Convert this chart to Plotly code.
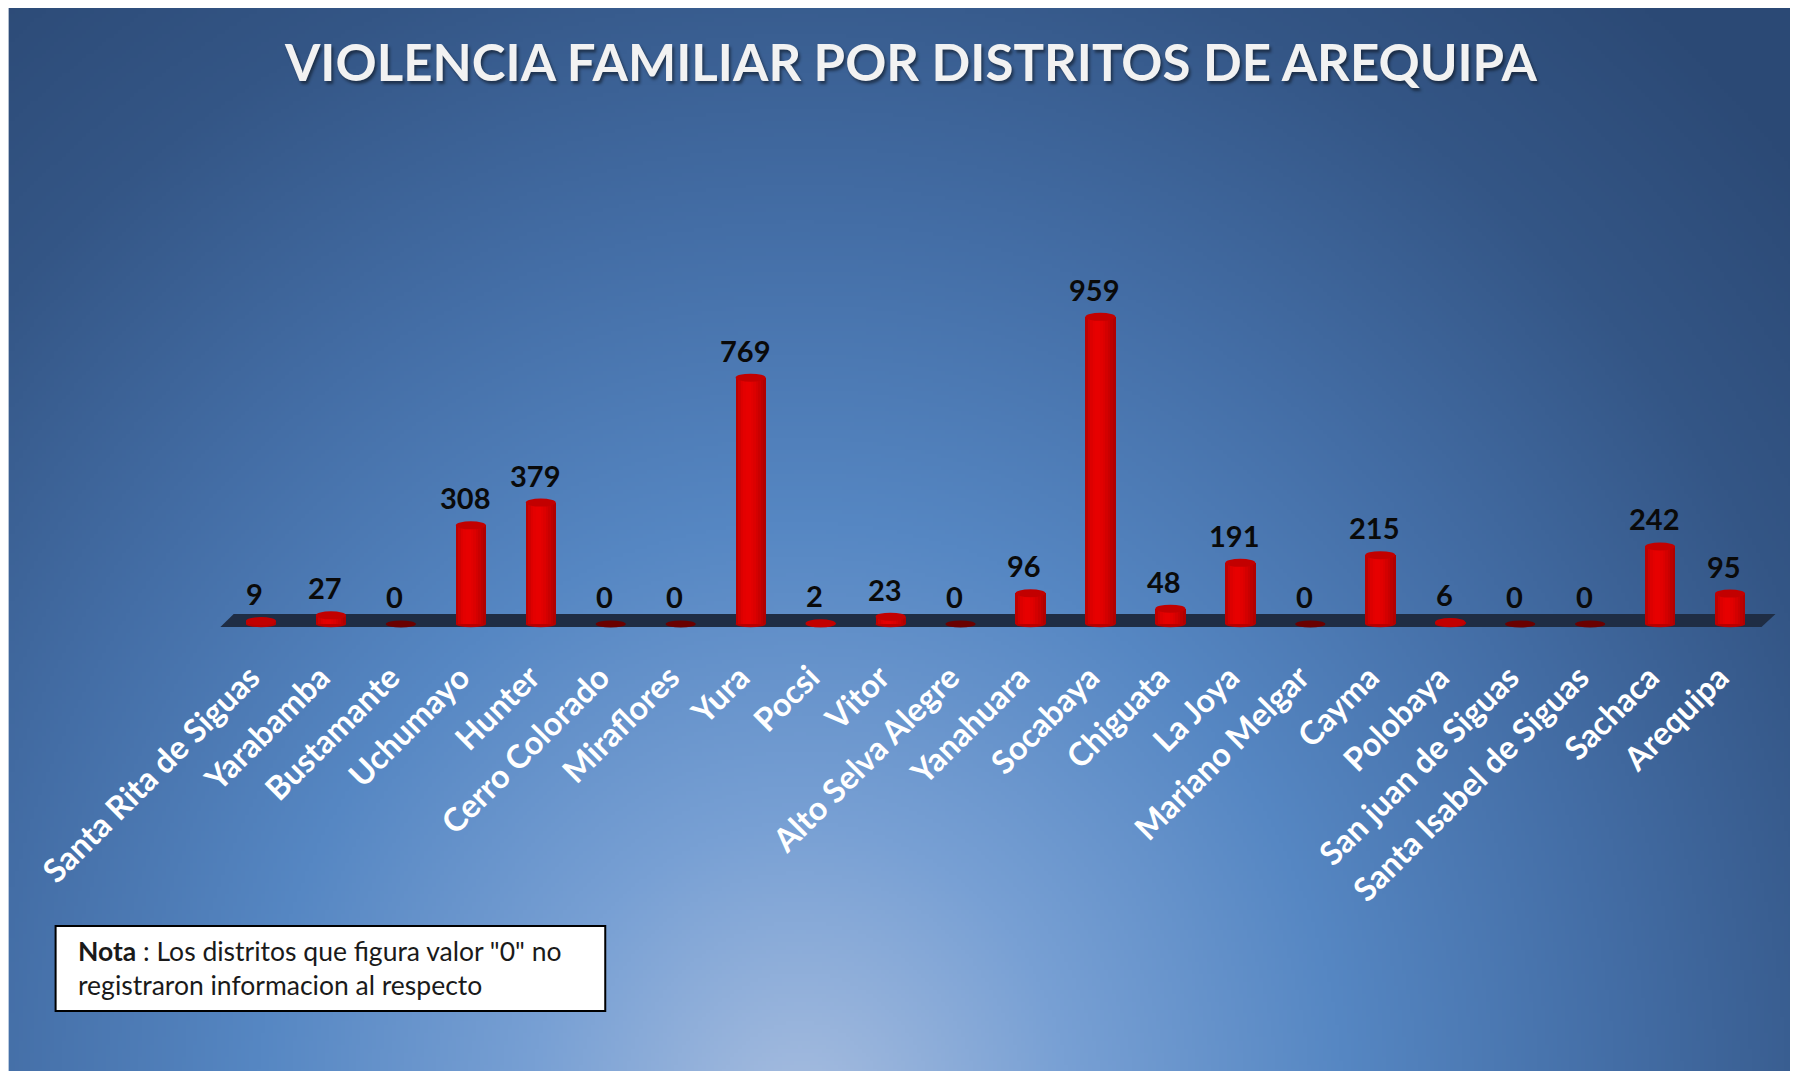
import base64
import struct
import zlib

import numpy as np
import plotly.graph_objects as go

# ---------------- data ----------------
districts = [
    "Santa Rita de Siguas", "Yarabamba", "Bustamante", "Uchumayo", "Hunter",
    "Cerro Colorado", "Miraflores", "Yura", "Pocsi", "Vitor", "Alto Selva Alegre",
    "Yanahuara", "Socabaya", "Chiguata", "La Joya", "Mariano Melgar", "Cayma",
    "Polobaya", "San juan de Siguas", "Santa Isabel de Siguas", "Sachaca", "Arequipa",
]
cases = [9, 27, 0, 308, 379, 0, 0, 769, 2, 23, 0, 96, 959, 48, 191, 0, 215, 6, 0, 0, 242, 95]
title_text = "VIOLENCIA FAMILIAR POR DISTRITOS DE AREQUIPA"
note_text = '<b>Nota</b> : Los distritos que figura valor "0" no<br>registraron informacion al respecto'

# ---------------- geometry (page px -> figure px) ----------------
OFF = 8                     # browser body margin
W, H = 1798 - OFF, 1071 - OFF
STEP = 70.0                 # px per category
X_FIRST = 260.5 - OFF       # px of first category centre
XR = [-0.6, 21.7]
ML = X_FIRST + XR[0] * STEP
MR = W - (X_FIRST + XR[1] * STEP)
MT, PB = 150 - OFF, 651 - OFF
MB = H - PB
PW, PH = W - ML - MR, PB - MT
Y0PX = 624 - OFF            # px of value 0
SCALE = 0.3203              # px per unit
YMAX = (Y0PX - MT) / SCALE
YMIN = -(PB - Y0PX) / SCALE


def pxx(page_x):
    return (page_x - OFF - ML) / PW


def pxy(page_y):
    return (PB - (page_y - OFF)) / PH


def units(p):
    return p / SCALE


# ---------------- background gradient image ----------------
def make_png(w, h, rgb):
    raw = b"".join(b"\x00" + rgb[r].tobytes() for r in range(h))

    def chunk(t, d):
        c = struct.pack(">I", len(d)) + t + d
        return c + struct.pack(">I", zlib.crc32(t + d) & 0xFFFFFFFF)

    ihdr = struct.pack(">IIBBBBB", w, h, 8, 2, 0, 0, 0)
    return (b"\x89PNG\r\n\x1a\n" + chunk(b"IHDR", ihdr)
            + chunk(b"IDAT", zlib.compress(raw, 9)) + chunk(b"IEND", b""))


gw, gh = 450, 268
xs = OFF + (np.arange(gw) + 0.5) * W / gw
ys = OFF + (np.arange(gh) + 0.5) * H / gh
X, Y = np.meshgrid(xs, ys)
cx, cy = 800, 1120
d = np.sqrt(((X - cx) * 1.1) ** 2 + (Y - cy) ** 2)
stops = [0, 300, 600, 900, 1200, 1450, 2200]
Rs = [168, 120, 86, 68, 52, 44, 42]
Gs = [190, 160, 135, 110, 86, 74, 70]
Bs = [224, 212, 195, 166, 134, 118, 112]
img = np.stack([np.interp(d, stops, Rs), np.interp(d, stops, Gs), np.interp(d, stops, Bs)], axis=-1)
img = np.clip(img, 0, 255).astype(np.uint8)
png_uri = "data:image/png;base64," + base64.b64encode(make_png(gw, gh, img)).decode()

# ---------------- figure ----------------
xpos = list(range(len(districts)))
fig = go.Figure()

BW = 0.43
N = 12
for k in range(N):
    t = (k + 0.5) / N
    r = int(172 + 60 * np.sin(np.pi * t ** 0.75))
    fig.add_trace(go.Bar(
        x=xpos, y=cases, width=BW / N * 1.1, offset=-BW / 2 + k * BW / N,
        marker=dict(color=f"rgb({r},0,0)", line=dict(width=0)),
        hoverinfo="skip", showlegend=False,
    ))

shapes = []
# floor
fl_top, fl_bot = units(624 - 614), -units(627 - 624)
shapes.append(dict(
    type="path", xref="x", yref="y", layer="below",
    path=f"M -0.58,{fl_bot} L 21.45,{fl_bot} L 21.65,{fl_top} L -0.39,{fl_top} Z",
    fillcolor="#1f2d44", line=dict(width=0),
))
EH = units(4)
for i, v in zip(xpos, cases):
    if v > 0:
        shapes.append(dict(type="circle", xref="x", yref="y", layer="below",
                           x0=i - BW / 2, x1=i + BW / 2, y0=-EH * 0.8, y1=EH * 0.8,
                           fillcolor="#b80000", line=dict(width=0)))
        shapes.append(dict(type="circle", xref="x", yref="y", layer="above",
                           x0=i - BW / 2, x1=i + BW / 2, y0=v - EH, y1=v + EH,
                           fillcolor="#c20000", line=dict(width=0)))
    else:
        shapes.append(dict(type="circle", xref="x", yref="y", layer="above",
                           x0=i - BW / 2, x1=i + BW / 2, y0=-EH * 0.9, y1=EH * 0.9,
                           fillcolor="#6a0000", line=dict(width=0)))

# note box
shapes.append(dict(type="rect", xref="paper", yref="paper", layer="above",
                   x0=pxx(55), x1=pxx(605), y0=pxy(1011), y1=pxy(926),
                   fillcolor="white", line=dict(color="black", width=2)))

annotations = []
for i, v in zip(xpos, cases):
    annotations.append(dict(
        x=i, y=v, xref="x", yref="y", text=str(v), showarrow=False,
        yanchor="bottom", yshift=8, xshift=-6,
        font=dict(family="Lato", size=29, color="#0a0a0a", weight="bold"),
    ))
annotations.append(dict(
    x=pxx(75), y=pxy(968), xref="paper", yref="paper", text=note_text,
    showarrow=False, xanchor="left", yanchor="middle", align="left",
    font=dict(family="Lato", size=26.5, color="#1a1a1a"),
))

fig.update_layout(
    width=W, height=H,
    margin=dict(l=ML, r=MR, t=MT, b=MB, pad=0),
    paper_bgcolor="white", plot_bgcolor="rgba(0,0,0,0)",
    barmode="overlay", bargap=0,
    showlegend=False,
    title=dict(
        text=title_text, x=(911 - OFF) / W, xanchor="center", xref="container",
        y=1 - (55) / H, yanchor="middle", yref="container",
        font=dict(family="Lato", size=51, color="#f2f2f2", weight="bold",
                  shadow="2px 3px 3px rgba(0,0,0,0.45)"),
    ),
    xaxis=dict(
        range=XR, tickmode="array", tickvals=[p - 0.15 for p in xpos], ticktext=districts,
        tickangle=-45, ticks="", showgrid=False, zeroline=False, showline=False,
        tickfont=dict(family="Lato", size=32.5, color="white", weight="bold"),
        automargin=False, fixedrange=True,
    ),
    yaxis=dict(range=[YMIN, YMAX], visible=False, showgrid=False, zeroline=False,
               automargin=False, fixedrange=True),
    images=[dict(source=png_uri, xref="paper", yref="paper",
                 x=pxx(OFF), y=pxy(OFF), sizex=W / PW, sizey=H / PH,
                 xanchor="left", yanchor="top", sizing="stretch", layer="below")],
    shapes=shapes,
    annotations=annotations,
)

fig.write_html("out.html", config={"displayModeBar": False})
